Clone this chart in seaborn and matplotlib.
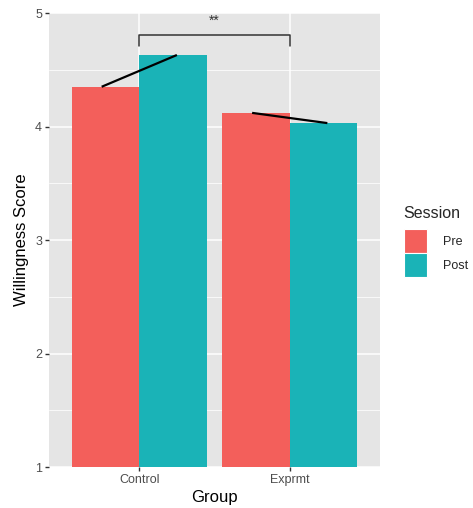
import matplotlib
matplotlib.use("Agg")
import matplotlib.pyplot as plt
import seaborn as sns
import pandas as pd
from matplotlib.patches import Patch
from matplotlib.ticker import MultipleLocator

groups = ["Control", "Control", "Exprmt", "Exprmt"]
sessions = ["Pre", "Post", "Pre", "Post"]
scores = [4.35, 4.63, 4.12, 4.03]
group_order = ["Control", "Exprmt"]
session_order = ["Pre", "Post"]
palette = ["#F35F5B", "#1AB3B7"]
sig_label = "**"
sig_y = 4.81
sig_drop = 0.10

df = pd.DataFrame({"Group": groups, "Session": sessions, "Score": scores})

sns.set_theme(style="darkgrid")
plt.rcParams['font.family'] = ['Liberation Sans', 'DejaVu Sans']

fig = plt.figure(figsize=(4.73, 5.08), dpi=100)
ax = fig.add_axes([49/473, 41/508, 331/473, 454/508])
ax.set_facecolor("#E5E5E5")

sns.barplot(data=df, x="Group", y="Score", hue="Session", order=group_order,
            hue_order=session_order, palette=palette, width=0.9, ax=ax,
            errorbar=None, saturation=1, legend=False, linewidth=0)

ax.set_ylim(1, 5)
ax.set_xlim(-0.6, 1.6)
ax.yaxis.set_major_locator(MultipleLocator(1))
ax.yaxis.set_minor_locator(MultipleLocator(0.5))
ax.grid(which="major", color="white", linewidth=1.1)
ax.grid(which="minor", axis="y", color="white", linewidth=0.55)
ax.set_axisbelow(True)
for s in ax.spines.values():
    s.set_visible(False)

# connecting lines per group
for i, g in enumerate(group_order):
    pre = df[(df.Group == g) & (df.Session == "Pre")].Score.values[0]
    post = df[(df.Group == g) & (df.Session == "Post")].Score.values[0]
    ax.plot([i - 0.25, i + 0.25], [pre, post], color="black", linewidth=1.6,
            solid_capstyle="butt", zorder=5)

# significance bracket
ax.plot([0, 0, 1, 1], [sig_y - sig_drop, sig_y, sig_y, sig_y - sig_drop],
        color="#333333", linewidth=1.1, zorder=5)
ax.text(0.5, sig_y + 0.06, sig_label, ha="center", va="bottom", fontsize=10,
        color="#333333")

ax.tick_params(axis="both", which="major", length=3, width=1, color="#333333",
               labelsize=9, labelcolor="#4D4D4D", pad=2, left=True, bottom=True)
ax.tick_params(axis="y", which="minor", length=0)
ax.set_xlabel("Group", fontsize=12, color="black", labelpad=3)
ax.set_ylabel("Willingness Score", fontsize=12, color="black", labelpad=4)

handles = [Patch(facecolor=c, edgecolor="white", linewidth=0.8) for c in palette]
leg = fig.legend(handles, session_order, title="Session", loc="upper left",
                 bbox_to_anchor=(396/473, 1 - 198/508), frameon=False,
                 fontsize=9, title_fontsize=11.5, handlelength=1.85,
                 handleheight=2.58, labelspacing=0.0, handletextpad=1.3,
                 borderaxespad=0.0, borderpad=0.6)
leg._legend_box.align = "left"
leg._legend_box.sep = 6

fig.savefig("out.png", dpi=100)
